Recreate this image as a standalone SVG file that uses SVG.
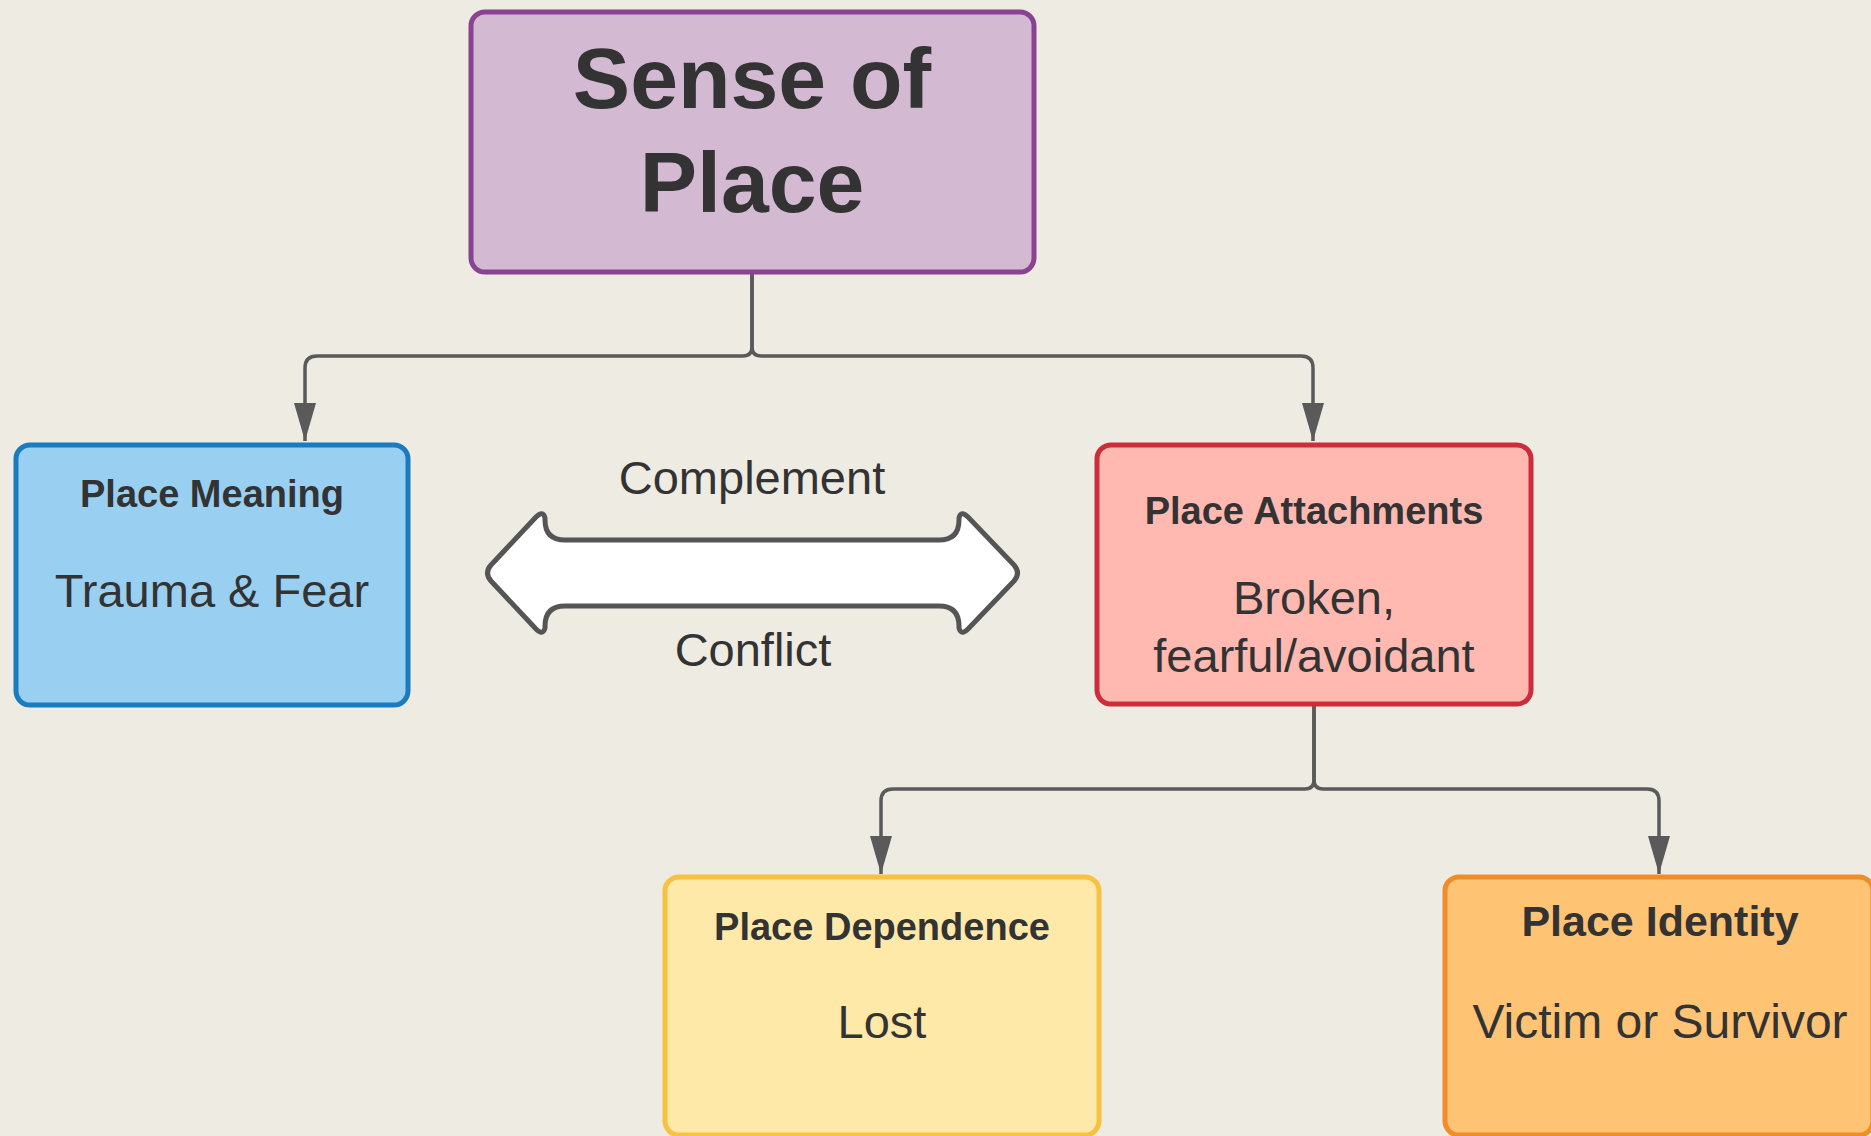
<svg xmlns="http://www.w3.org/2000/svg" width="1871" height="1136" viewBox="0 0 1871 1136">
<defs>
<style>
.box{stroke-width:5}
.t{font-family:"Liberation Sans",Arial,sans-serif;fill:#333;text-anchor:middle}
.b{font-weight:bold}
.conn{fill:none;stroke:#5a5a5a;stroke-width:3.5}
</style>
<marker id="ah" markerUnits="userSpaceOnUse" markerWidth="40" markerHeight="30" viewBox="0 0 40 30" refX="38" refY="15" orient="auto">
<path d="M0,4 L38,15 L0,26 Z" fill="#5a5a5a"/>
</marker>
</defs>
<rect width="1871" height="1136" fill="#EEEBE3"/>
<g id="connectors">
<path class="conn" d="M752,272 V347 Q752,356 743,356 H317 Q305,356 305,368 V441" marker-end="url(#ah)"/>
<path class="conn" d="M752,272 V347 Q752,356 761,356 H1301 Q1313,356 1313,368 V441" marker-end="url(#ah)"/>
<path class="conn" d="M1314,705 V780 Q1314,789 1305,789 H893 Q881,789 881,801 V874" marker-end="url(#ah)"/>
<path class="conn" d="M1314,705 V780 Q1314,789 1323,789 H1647 Q1659,789 1659,801 V874" marker-end="url(#ah)"/>
</g>
<g id="sense">
<rect class="box" x="471" y="12" width="563" height="260" rx="14" fill="#D3BAD2" stroke="#8A4390"/>
<text class="t b" x="752" y="108" font-size="86">Sense of</text>
<text class="t b" x="752" y="212" font-size="86">Place</text>
</g>
<g id="meaning">
<rect class="box" x="16" y="445" width="392" height="260" rx="14" fill="#99D0F2" stroke="#1A7BBF"/>
<text class="t b" x="212" y="507" font-size="38">Place Meaning</text>
<text class="t" x="212" y="607" font-size="47">Trauma &amp; Fear</text>
</g>
<g id="relation">
<path d="M545,520 Q545,540 565,540 H939 Q959,540 959,520 L959,518 Q961,510 968,517 L1014,565 Q1021,573 1014,581 L968,629 Q961,636 959,628 L959,626 Q959,606 939,606 H565 Q545,606 545,626 L545,628 Q543,636 536,629 L491,581 Q484,573 491,565 L536,517 Q543,510 545,518 Z" fill="#fff" stroke="#555" stroke-width="5" stroke-linejoin="round"/>
<text class="t" x="752" y="494" font-size="47">Complement</text>
<text class="t" x="753" y="666" font-size="47">Conflict</text>
</g>
<g id="attachments">
<rect class="box" x="1097" y="445" width="434" height="259" rx="14" fill="#FFB9B1" stroke="#CC2D3B"/>
<text class="t b" x="1314" y="524" font-size="38">Place Attachments</text>
<text class="t" x="1314" y="614" font-size="47">Broken,</text>
<text class="t" x="1314" y="672" font-size="47">fearful/avoidant</text>
</g>
<g id="dependence">
<rect class="box" x="665" y="877" width="434" height="258" rx="14" fill="#FFE9A8" stroke="#F7C241"/>
<text class="t b" x="882" y="940" font-size="38">Place Dependence</text>
<text class="t" x="882" y="1038" font-size="47">Lost</text>
</g>
<g id="identity">
<rect class="box" x="1445" y="877" width="428" height="258" rx="14" fill="#FFC374" stroke="#EF8E29"/>
<text class="t b" x="1660" y="936" font-size="43">Place Identity</text>
<text class="t" x="1660" y="1038" font-size="48">Victim or Survivor</text>
</g>
</svg>
